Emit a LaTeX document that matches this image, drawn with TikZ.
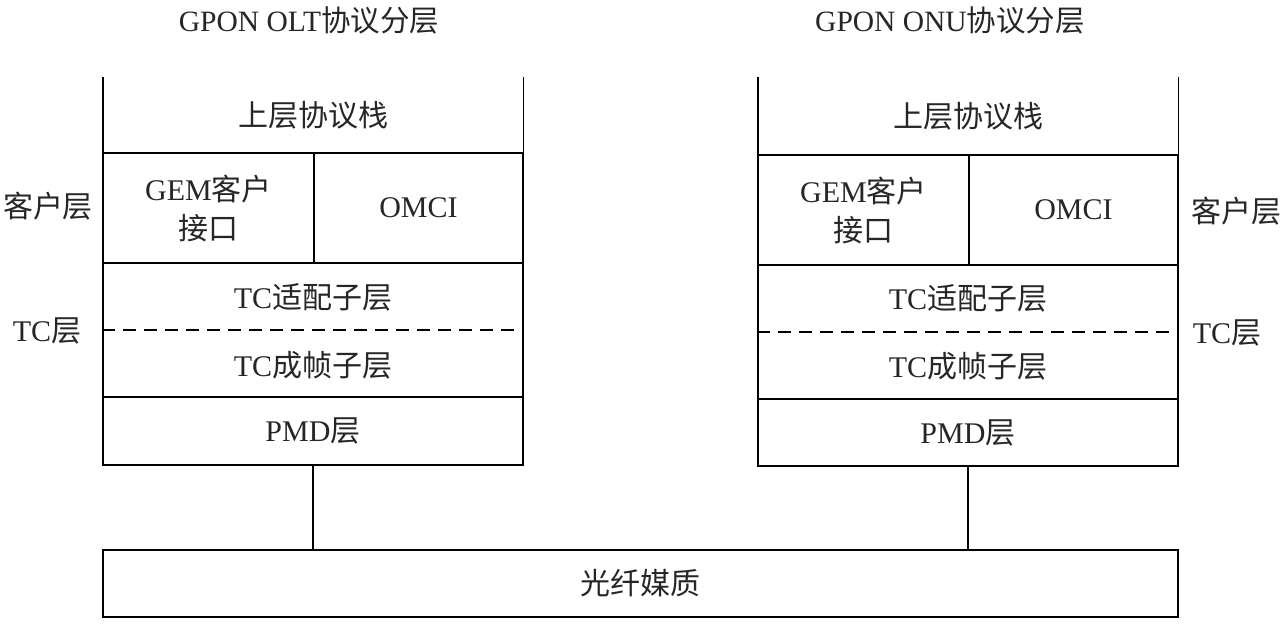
\documentclass[tikz,border=0pt]{standalone}
\usepackage{fontspec}
\setmainfont{Liberation Serif}
\newfontfamily\cjk{Noto Sans CJK SC}
\begin{document}
\begin{tikzpicture}[x=1pt,y=-1pt,
  txt/.style={font=\fontsize{30}{35}\selectfont, text=black!85, inner sep=0pt, align=center},
  ttl/.style={font=\fontsize{29.5}{34}\selectfont, text=black!85, inner sep=0pt},
  cell/.style={draw, line width=1.4pt, inner sep=0pt, align=center, font=\fontsize{30}{39}\selectfont, text=black!85},
  opencell/.style={inner sep=0pt, font=\fontsize{30}{35}\selectfont, text=black!85},
  edge/.style={line width=1.4pt},
  dash line/.style={line width=1.4pt, dash pattern=on 13pt off 8pt}
]
\useasboundingbox (0,0) rectangle (1286,627);

% titles
\node[ttl] (tl) at (309,20) {GPON OLT{\cjk 协议分层}};
\node[ttl] (tr) at (950,20) {GPON ONU{\cjk 协议分层}};

% left stack
\node[opencell, minimum width=420pt, minimum height=76pt] (upL) at (313,115) {\cjk 上层协议栈};
\draw[edge] (upL.north west) -- (upL.south west) -- (upL.south east) -- (upL.north east);
\node[cell, minimum width=211pt, minimum height=110pt] (gemL) at (208.5,208) {GEM{\cjk 客户}\\{\cjk 接口}};
\node[cell, minimum width=209pt, minimum height=110pt] (omciL) at (418.5,208) {OMCI};
\node[cell, minimum width=420pt, minimum height=134pt] (tcL) at (313,330) {};
\node[txt] (tcaL) at (313,297) {TC{\cjk 适配子层}};
\node[txt] (tcfL) at (313,365) {TC{\cjk 成帧子层}};
\draw[dash line] (tcL.west) -- (tcL.east);
\node[cell, minimum width=420pt, minimum height=68pt] (pmdL) at (313,431) {PMD{\cjk 层}};

% right stack
\node[opencell, minimum width=420pt, minimum height=78pt] (upR) at (968,116) {\cjk 上层协议栈};
\draw[edge] (upR.north west) -- (upR.south west) -- (upR.south east) -- (upR.north east);
\node[cell, minimum width=211pt, minimum height=110pt] (gemR) at (863.5,210) {GEM{\cjk 客户}\\{\cjk 接口}};
\node[cell, minimum width=209pt, minimum height=110pt] (omciR) at (1073.5,210) {OMCI};
\node[cell, minimum width=420pt, minimum height=134pt] (tcR) at (968,332) {};
\node[txt] (tcaR) at (968,298) {TC{\cjk 适配子层}};
\node[txt] (tcfR) at (968,366) {TC{\cjk 成帧子层}};
\draw[dash line] (tcR.west) -- (tcR.east);
\node[cell, minimum width=420pt, minimum height=67pt] (pmdR) at (968,432.5) {PMD{\cjk 层}};

% side labels
\node[txt] (khL) at (48,206) {\cjk 客户层};
\node[txt] (tcLbl) at (47,331) {TC{\cjk 层}};
\node[txt] (khR) at (1236,211) {\cjk 客户层};
\node[txt] (tcRbl) at (1227,333) {TC{\cjk 层}};

% fiber
\node[cell, minimum width=1075pt, minimum height=67pt] (fiber) at (640.5,583.5) {\cjk 光纤媒质};

% connectors
\draw[edge] (pmdL.south) -- (pmdL.south |- fiber.north);
\draw[edge] (pmdR.south) -- (pmdR.south |- fiber.north);
\end{tikzpicture}
\end{document}
